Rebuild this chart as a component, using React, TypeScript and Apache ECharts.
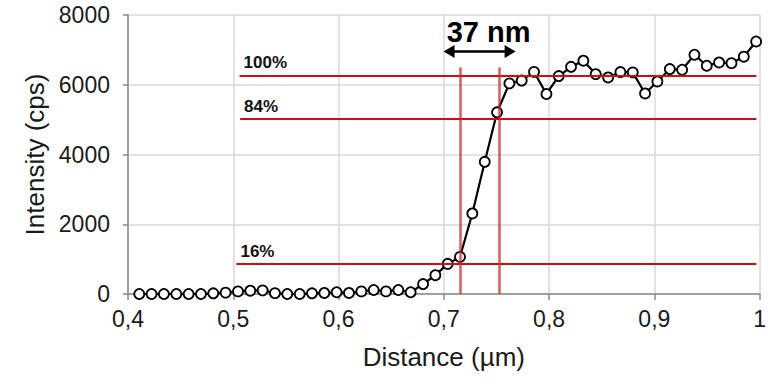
import React, { useEffect, useRef } from "react";
import * as echarts from "echarts";

const distance = [
  0.4107, 0.4224, 0.4341, 0.4459, 0.4576, 0.4693, 0.481, 0.4927, 0.5045, 0.5162,
  0.5279, 0.5396, 0.5513, 0.5631, 0.5748, 0.5865, 0.5982, 0.6099, 0.6217, 0.6334,
  0.6451, 0.6568, 0.6685, 0.6803, 0.692, 0.7037, 0.7154, 0.7271, 0.7389, 0.7506,
  0.7623, 0.774, 0.7857, 0.7975, 0.8092, 0.8209, 0.8326, 0.8443, 0.8561, 0.8678,
  0.8795, 0.8912, 0.9029, 0.9147, 0.9264, 0.9381, 0.9498, 0.9615, 0.9733, 0.985,
  0.9967,
];
const intensity = [
  0, 0, 0, 0, 0, 0, 20, 40, 75, 95,
  105, 25, 0, 0, 20, 30, 50, 30, 75, 115,
  75, 115, 50, 285, 540, 865, 1065, 2310, 3790, 5210,
  6040, 6120, 6370, 5735, 6250, 6515, 6690, 6305, 6210, 6365,
  6355, 5750, 6095, 6450, 6430, 6860, 6545, 6640, 6620, 6805,
  7240,
];

const levelNames = ["100%", "84%", "16%"];
const levelValues = [6270, 5030, 860];
const levelStart = [0.506, 0.5065, 0.503];
const levelEnd = 0.997;

const edgeX = [0.716, 0.753];
const edgeTop = 6500;

const arrowY = 6950;
const arrowFrom = 0.705;
const arrowTo = 0.763;
const widthLabel = "37 nm";

const xTicks = { min: 0.4, max: 1, interval: 0.1 };
const yTicks = { min: 0, max: 8000, interval: 2000 };

const FONT = "Arial";

export default function App() {
  const ref = useRef<HTMLDivElement>(null);
  useEffect(() => {
    if (!ref.current) return;
    document.body.style.margin = "0";
    const chart = echarts.init(ref.current, null, { renderer: "svg" });
    const axisLine = { show: true, lineStyle: { color: "#898989", width: 1.5 } };
    const splitLine = { show: true, lineStyle: { color: "#d9d9d9", width: 1.5 } };
    const hLines = levelNames.map((name, i) => [
      {
        coord: [levelStart[i], levelValues[i]],
        label: {
          show: true,
          position: "insideStartTop",
          formatter: name,
          color: "#111",
          fontFamily: FONT,
          fontWeight: "bold",
          fontSize: 17,
          distance: 4,
        },
      },
      { coord: [levelEnd, levelValues[i]] },
    ]);
    const vLines = edgeX.map((x) => [{ coord: [x, 0] }, { coord: [x, edgeTop] }]);
    chart.setOption({
      animation: false,
      textStyle: { fontFamily: FONT },
      grid: { left: 128, right: 6, top: 15, bottom: 86, containLabel: false },
      xAxis: {
        type: "value",
        ...xTicks,
        name: "Distance (µm)",
        nameLocation: "middle",
        nameGap: 50,
        nameTextStyle: { fontSize: 26, color: "#1a1a1a", fontFamily: FONT },
        axisLine,
        axisTick: { show: true, length: 6, lineStyle: { color: "#898989", width: 1.5 } },
        splitLine,
        axisLabel: {
          fontSize: 23,
          color: "#1a1a1a",
          margin: 13,
          fontFamily: FONT,
          showMaxLabel: true,
          showMinLabel: true,
          formatter: (v: number) => String(Math.round(v * 10) / 10).replace(".", ","),
        },
      },
      yAxis: {
        type: "value",
        ...yTicks,
        name: "Intensity (cps)",
        nameLocation: "middle",
        nameGap: 80,
        nameTextStyle: { fontSize: 26, color: "#1a1a1a", fontFamily: FONT },
        axisLine,
        axisTick: { show: true, length: 5, lineStyle: { color: "#898989", width: 1.5 } },
        splitLine,
        axisLabel: {
          fontSize: 23,
          color: "#1a1a1a",
          margin: 18,
          fontFamily: FONT,
          formatter: (v: number) => String(v),
        },
      },
      series: [
        {
          type: "line",
          data: distance.map((d, i) => [d, intensity[i]]),
          lineStyle: { color: "#000", width: 2.2 },
          symbol: "circle",
          symbolSize: 10,
          itemStyle: { color: "#fff", borderColor: "#000", borderWidth: 1.8 },
          z: 2,
        },
        {
          type: "line",
          data: [],
          z: 3,
          markLine: {
            silent: true,
            symbol: ["none", "none"],
            lineStyle: { color: "#cc1010", width: 2, type: "solid" },
            data: hLines,
          },
        },
        {
          type: "line",
          data: [],
          z: 3,
          markLine: {
            silent: true,
            symbol: ["none", "none"],
            label: { show: false },
            lineStyle: { color: "rgba(200,40,40,0.75)", width: 2.5, type: "solid" },
            data: vLines,
          },
        },
        {
          type: "line",
          data: [],
          z: 4,
          markLine: {
            silent: true,
            symbol: ["triangle", "triangle"],
            symbolSize: [13, 11],
            lineStyle: { color: "#000", width: 2.5, type: "solid" },
            label: {
              show: true,
              position: "middle",
              formatter: widthLabel,
              color: "#000",
              fontFamily: FONT,
              fontWeight: "bold",
              fontSize: 29,
              distance: 5,
              offset: [9, 0],
            },
            data: [[{ coord: [arrowFrom, arrowY] }, { coord: [arrowTo, arrowY] }]],
          },
        },
      ],
    });
    return () => chart.dispose();
  }, []);
  return <div ref={ref} style={{ width: 769, height: 380 }} />;
}
